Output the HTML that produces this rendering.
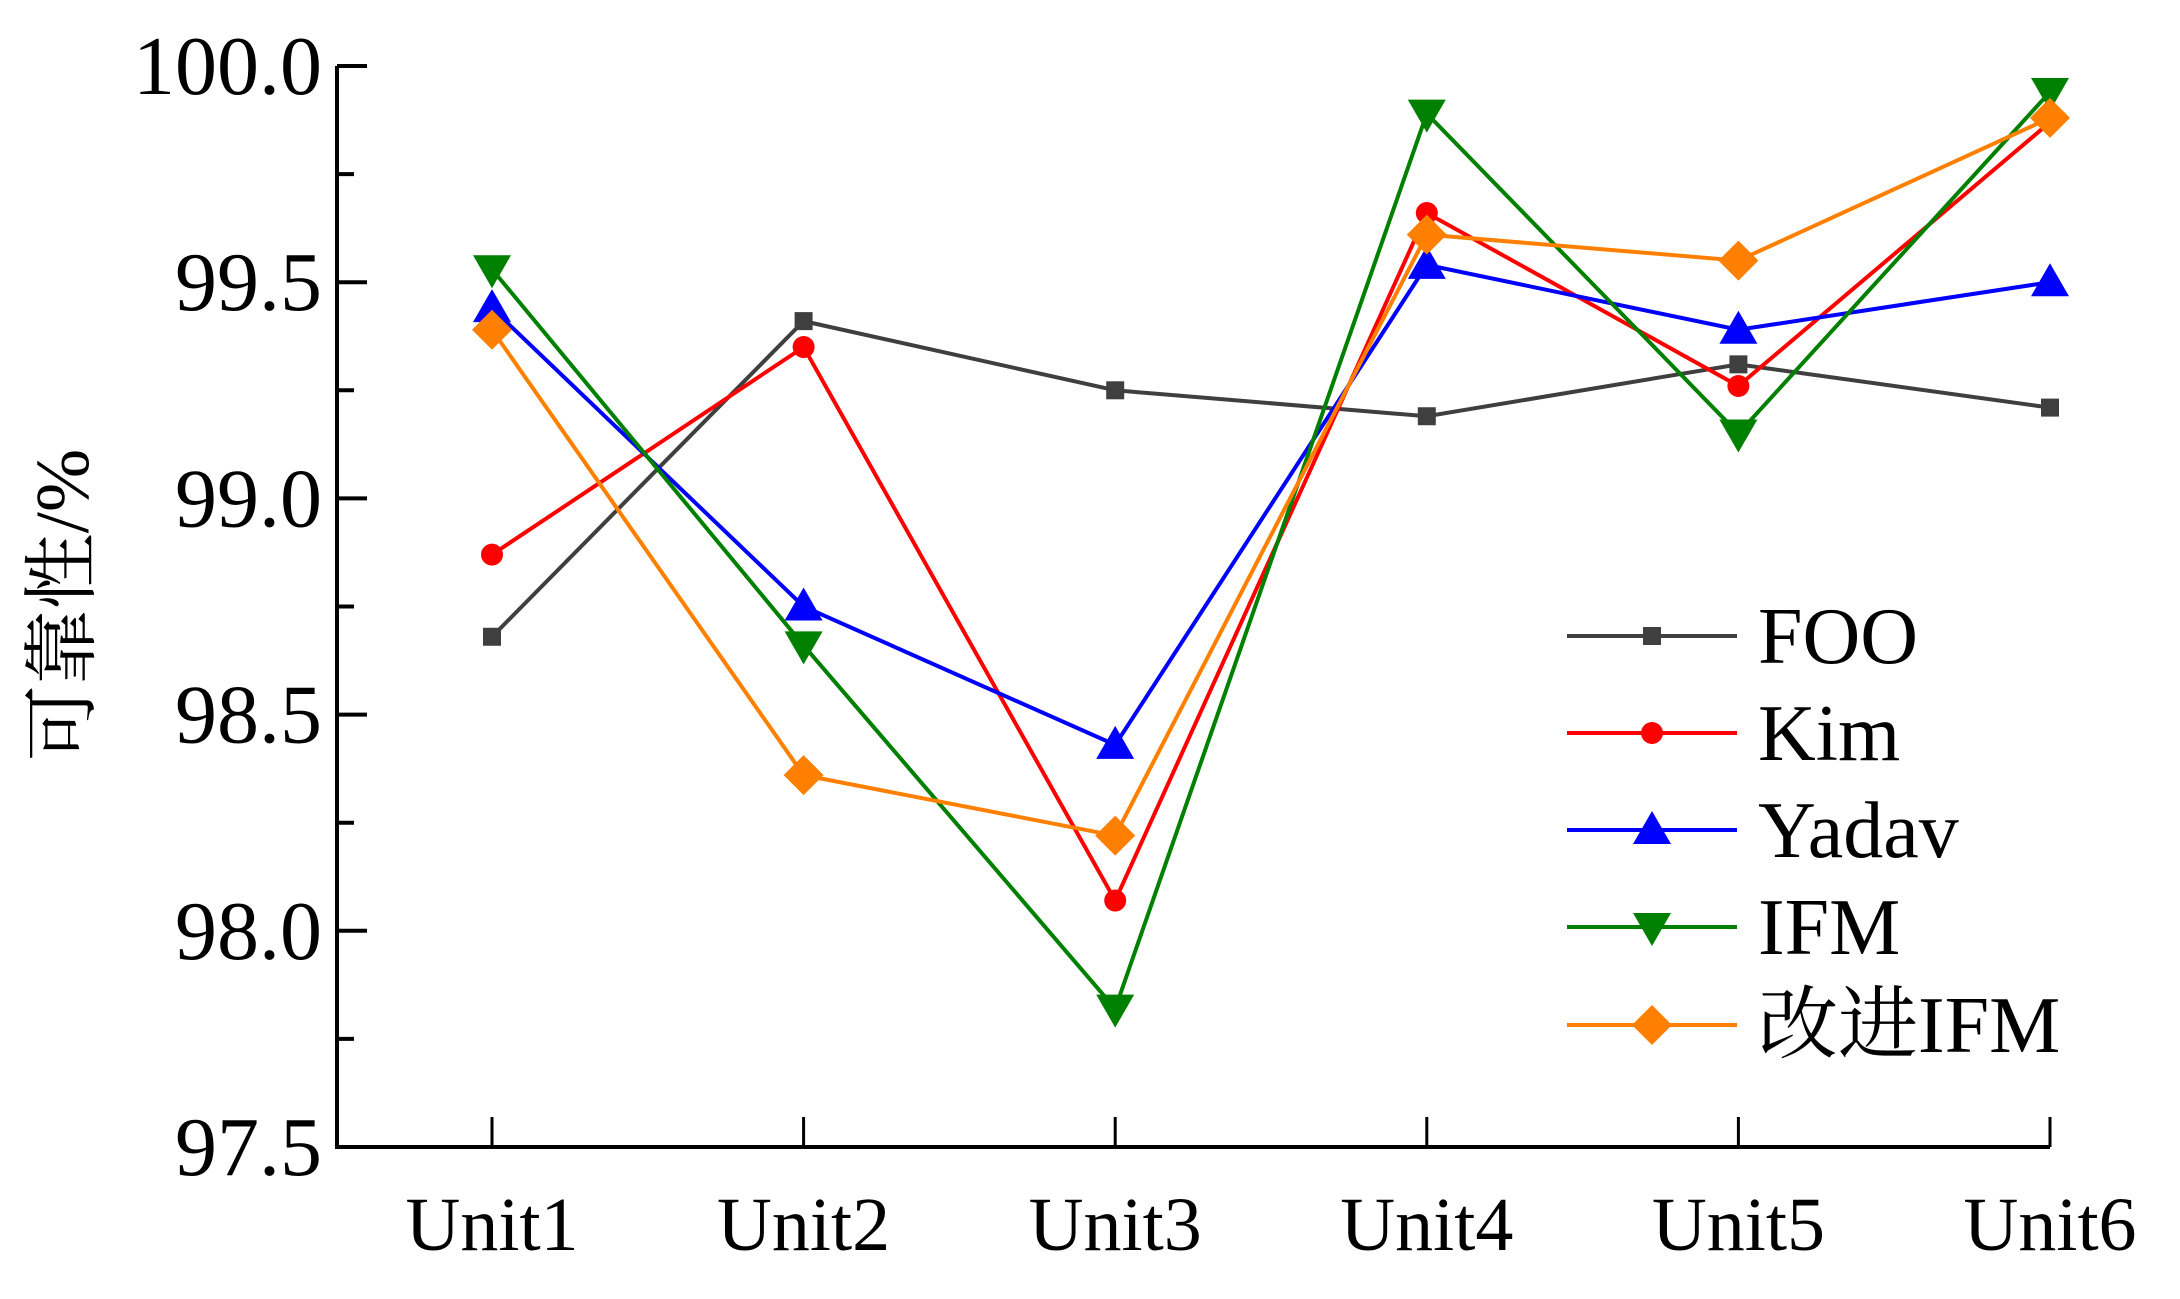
<!DOCTYPE html>
<html><head><meta charset="utf-8"><style>
html,body{margin:0;padding:0;background:#fff;}
svg{display:block;font-family:"Liberation Serif","Noto Serif CJK SC",serif;}
</style></head><body>
<svg id="chart" width="2180" height="1299" viewBox="0 0 2180 1299" xmlns="http://www.w3.org/2000/svg">
<g id="axes"></g>
<g id="series"></g>
<g id="legend"></g>
<text transform="translate(88,605) rotate(-90)" text-anchor="middle" font-size="76" fill="#000">可靠性/%</text>
</svg>
<script>
const categories = ["Unit1","Unit2","Unit3","Unit4","Unit5","Unit6"];
const yTicks = [97.5, 98.0, 98.5, 99.0, 99.5, 100.0];
const yTickLabels = ["97.5","98.0","98.5","99.0","99.5","100.0"];
const seriesNames = ["FOO","Kim","Yadav","IFM","改进IFM"];
const fooValues = [98.68, 99.41, 99.25, 99.19, 99.31, 99.21];
const kimValues = [98.87, 99.35, 98.07, 99.66, 99.26, 99.87];
const yadavValues = [99.44, 98.75, 98.43, 99.54, 99.39, 99.50];
const ifmValues = [99.53, 98.66, 97.82, 99.89, 99.15, 99.94];
const improvedValues = [99.39, 98.36, 98.22, 99.61, 99.55, 99.88];

const NS = "http://www.w3.org/2000/svg";
const X0 = 492, DX = 311.6, AXL = 337, AXR = 2050;
const YTOP = 66, YBOT = 1147, VMIN = 97.5, VMAX = 100.0;
function xPos(i){ return X0 + i*DX; }
function yPos(v){ return YBOT - (v - VMIN)/(VMAX - VMIN)*(YBOT - YTOP); }
function mk(tag, attrs, parent){ const e=document.createElementNS(NS,tag); for(const k in attrs) e.setAttribute(k,attrs[k]); parent.appendChild(e); return e; }

const axes = document.getElementById('axes');
let e;
e = mk('line',{x1:AXL,y1:YTOP,x2:AXL,y2:YBOT+2,stroke:'#000','stroke-width':4},axes);


e = mk('line',{x1:AXL-2,y1:YBOT,x2:AXR,y2:YBOT,stroke:'#000','stroke-width':4},axes);


yTicks.forEach((v,i)=>{
  const y=yPos(v);
  e = mk('line',{x1:AXL,y1:y,x2:AXL+30,y2:y,stroke:'#000','stroke-width':4},axes);
  
  
  if(i<yTicks.length-1){
    const ym=yPos(v+0.25);
    e = mk('line',{x1:AXL,y1:ym,x2:AXL+17,y2:ym,stroke:'#000','stroke-width':4},axes);
    
    
  }
  const t = mk('text',{x:322,y:y+28,'text-anchor':'end','font-size':84,fill:'#000'},axes);
  t.textContent = yTickLabels[i];
  
  
});
categories.forEach((c,i)=>{
  const x=xPos(i);
  e = mk('line',{x1:x,y1:YBOT,x2:x,y2:YBOT-30,stroke:'#000','stroke-width':3},axes);
  
  
  const t = mk('text',{x:x,y:1250,'text-anchor':'middle','font-size':76,fill:'#000'},axes);
  t.textContent = c;
  
  
});

function marker(kind, x, y, color, parent){
  let m;
  if(kind==='square') m = mk('rect',{x:x-9,y:y-9,width:18,height:18,fill:color},parent);
  else if(kind==='circle') m = mk('circle',{cx:x,cy:y,r:11,fill:color},parent);
  else if(kind==='up') m = mk('polygon',{points:`${x},${y-19} ${x-19},${y+14} ${x+19},${y+14}`,fill:color},parent);
  else if(kind==='down') m = mk('polygon',{points:`${x},${y+19} ${x-19},${y-14} ${x+19},${y-14}`,fill:color},parent);
  else m = mk('polygon',{points:`${x},${y-20} ${x+20},${y} ${x},${y+20} ${x-20},${y}`,fill:color},parent);
  return m;
}

const seriesDefs = [
  {name:seriesNames[0], vals:fooValues, color:'#3f3f3f', mk:'square', slug:'foo'},
  {name:seriesNames[1], vals:kimValues, color:'#ff0000', mk:'circle', slug:'kim'},
  {name:seriesNames[2], vals:yadavValues, color:'#0000ff', mk:'up', slug:'yadav'},
  {name:seriesNames[3], vals:ifmValues, color:'#008000', mk:'down', slug:'ifm'},
  {name:seriesNames[4], vals:improvedValues, color:'#ff8000', mk:'diamond', slug:'improved-ifm'}
];
const sg = document.getElementById('series');
const lg = document.getElementById('legend');
const legendY = [636, 733, 830, 927, 1025];
seriesDefs.forEach((s,si)=>{
  const g = mk('g',{},sg);
  
  
  const pts = s.vals.map((v,i)=>xPos(i)+','+yPos(v)).join(' ');
  const pl = mk('polyline',{points:pts,fill:'none',stroke:s.color,'stroke-width':4},g);
  
  
  s.vals.forEach((v,i)=>{
    const m = marker(s.mk,xPos(i),yPos(v),s.color,g);
    
    
  });
  const le = mk('g',{},lg);
  
  
  const ly = legendY[si];
  mk('line',{x1:1567,y1:ly,x2:1737,y2:ly,stroke:s.color,'stroke-width':4},le);
  marker(s.mk,1652,ly,s.color,le);
  const t = mk('text',{x:1758,y:ly+27,'font-size':80,fill:'#000'},le);
  t.textContent = s.name;
});
</script>
</body></html>
